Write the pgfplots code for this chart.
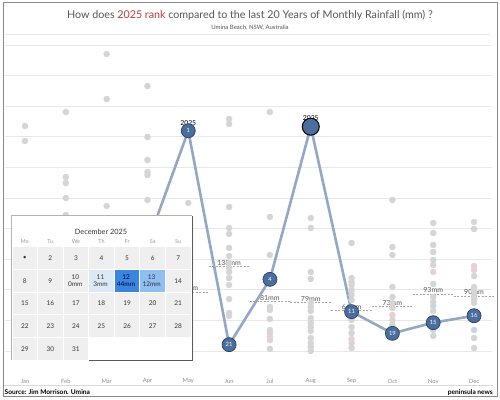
\documentclass[border=0pt]{standalone}
\usepackage{pgfplots}
\pgfplotsset{compat=1.18}
\usepackage{pgfplotstable}
\usepackage{fontspec}
\setmainfont{Lato}
\definecolor{gridgrey}{HTML}{E8E8E8}
\definecolor{dotgrey}{HTML}{D5D5D5}
\definecolor{dotpink}{HTML}{EBCFCF}
\definecolor{dotblue}{HTML}{CBD4E1}
\definecolor{linecol}{HTML}{92A8C5}
\definecolor{markfill}{HTML}{4A6E9E}
\definecolor{markedge}{HTML}{2A3F5E}
\definecolor{titlegrey}{HTML}{555555}
\definecolor{titlered}{HTML}{B83A3A}
\definecolor{avggrey}{HTML}{555555}
\definecolor{dashgrey}{HTML}{A5A5A5}
\definecolor{monthgrey}{HTML}{8C8C8C}
\definecolor{cellgrey}{HTML}{EFEFEF}
\definecolor{cellA}{HTML}{DCE8F6}
\definecolor{cellB}{HTML}{3A85E0}
\definecolor{cellC}{HTML}{90BEF0}
\definecolor{calnum}{HTML}{333333}
\definecolor{framegrey}{HTML}{8A8A8A}

\pgfplotstableread{
x y
1 367.4
1 342.9
2 390.3
2 284.1
2 274.3
2 249.8
2 222.1
3 485.0
3 411.5
3 236.8
4 432.7
4 349.5
4 311.9
4 292.3
4 287.4
4 246.6
5 241.7
6 378.9
6 370.7
6 235.2
6 200.9
6 191.1
6 168.2
6 155.1
6 143.7
6 135.5
6 129.0
6 119.2
6 107.8
6 84.9
6 62.1
6 57.2
7 390.3
7 218.8
7 156.8
7 71.9
7 67.0
7 52.3
7 34.3
7 29.4
7 18.0
7 3.3
8 217.2
8 200.9
8 129.0
8 117.6
8 78.4
8 71.9
8 65.3
8 53.9
8 45.7
8 39.2
8 32.7
8 21.2
8 13.1
8 6.5
8 0.0
9 176.4
9 119.2
9 112.7
9 107.8
9 99.6
9 91.4
9 83.3
9 50.6
9 39.2
9 29.4
9 13.1
9 4.9
10 246.6
10 169.8
10 156.8
10 104.5
10 88.2
10 78.4
10 70.2
10 50.6
10 42.5
11 209.0
11 192.7
11 173.1
11 161.7
11 148.6
11 140.4
11 109.4
11 88.2
11 80.0
11 65.3
11 34.3
11 24.5
12 210.7
12 199.2
12 122.5
12 104.5
12 98.0
12 91.4
12 84.9
12 78.4
12 21.2
12 4.9
}\greydots

\pgfplotstableread{
x y
7 22.9
9 19.6
10 58.8
11 129.0
12 138.8
12 132.3
}\pinkdots

\pgfplotstableread{
x y
11 73.5
12 34.3
}\bluedots

\pgfplotstableread{
x y
4 176.0
5 359.7
6 10.3
7 117.0
8 366.3
9 64.2
10 28.8
11 46.2
12 57.6
}\yeartwentyfive

\begin{document}
\begin{tikzpicture}[x=1pt,y=1pt]
\useasboundingbox (0,0) rectangle (500,399);
\fill[white] (0,0) rectangle (500,399);
\draw[framegrey, line width=1pt] (3,2.5) rectangle (497,396);
\node[font=\fontsize{10.7}{12}\selectfont, text=titlegrey] at (250,383.5) {How does \textcolor{titlered}{2025 rank} compared to the last 20 Years of Monthly Rainfall (mm) ?};
\node[font=\fontsize{6}{7}\selectfont, text=titlegrey] at (250,371) {Umina Beach, NSW, Australia};
\draw[gridgrey, line width=0.6pt] (5,365) -- (490,365);

\begin{axis}[
  at={(5pt,34pt)}, anchor=south west,
  scale only axis, width=487pt, height=325pt,
  xmin=0.51, xmax=12.44, ymin=-22.9, ymax=507.9,
  axis line style={draw=none},
  ytick={0,50,...,500}, yticklabels={},
  ymajorgrids, grid style={gridgrey, line width=0.6pt},
  xtick={1,...,12},
  xticklabels={Jan,Feb,Mar,Apr,May,Jun,Jul,Aug,Sep,Oct,Nov,Dec},
  major tick length=0pt,
  xticklabel style={font=\fontsize{5.8}{6}\selectfont, text=monthgrey, anchor=center, yshift=-16pt},
  clip=false,
]
\addplot[only marks, mark=*, mark size=3pt, color=dotgrey] table[x=x,y=y] {\greydots};
\addplot[only marks, mark=*, mark size=3pt, color=dotpink] table[x=x,y=y] {\pinkdots};
\addplot[only marks, mark=*, mark size=3pt, color=dotblue] table[x=x,y=y] {\bluedots};

% monthly averages
\pgfplotsset{avgline/.style={dashgrey, dash pattern=on 2pt off 1.5pt, line width=0.6pt}}
\addplot[avgline] coordinates {(4.5,96) (5.5,96)};
\addplot[avgline] coordinates {(5.5,138) (6.5,138)};
\addplot[avgline] coordinates {(6.5,81) (7.5,81)};
\addplot[avgline] coordinates {(7.5,79) (8.5,79)};
\addplot[avgline] coordinates {(8.5,66) (9.5,66)};
\addplot[avgline] coordinates {(9.5,73) (10.5,73)};
\addplot[avgline] coordinates {(10.5,93) (11.5,93)};
\addplot[avgline] coordinates {(11.5,90) (12.5,90)};
\begin{scope}[every node/.style={anchor=south, inner sep=1pt, font=\fontsize{7}{8}\selectfont, text=avggrey}]
\node at (axis cs:5,96) {96mm};
\node at (axis cs:6,138) {138mm};
\node at (axis cs:7,81) {81mm};
\node at (axis cs:8,79) {79mm};
\node at (axis cs:9,66) {66mm};
\node at (axis cs:10,73) {73mm};
\node at (axis cs:11,93) {93mm};
\node at (axis cs:12,90) {90mm};
\end{scope}

% 2025 line
\addplot[linecol, line width=2.6pt] table[x=x,y=y] {\yeartwentyfive};
\node[font=\fontsize{6.8}{7}\selectfont] at (axis cs:8,380) {2025};
\addplot[only marks, mark=*, mark size=8.5pt, mark options={fill=markfill, draw=black, line width=1pt}] coordinates {(8,366.3)};
\addplot[only marks, mark=*, mark size=7pt, mark options={fill=markfill, draw=markedge, line width=0.7pt},
  point meta=explicit symbolic, nodes near coords,
  nodes near coords style={anchor=center, font=\fontsize{5.8}{6}\selectfont, text=white}]
  coordinates {(5,359.7)[1] (6,10.3)[21] (7,117.0)[4] (9,64.2)[11] (10,28.8)[19] (11,46.2)[15] (12,57.6)[16]};
\node[font=\fontsize{6.8}{7}\selectfont] at (axis cs:5,373) {2025};
\end{axis}

% calendar
\fill[white] (11,39) rectangle (192,184);
\draw[black!30, line width=0.6pt] (192,184) -- (11,184) -- (11,39);
\draw[black!65, line width=1.6pt] (192.6,183) -- (192.6,38.4) -- (13,38.4);
\node[font=\fontsize{7.3}{8}\selectfont, text=calnum] at (101,167.3) {December 2025};
\foreach \w [count=\i from 0] in {Mo,Tu,We,Th,Fr,Sa,Su}{
  \pgfmathsetmacro{\xc}{12+(\i+0.5)*25.57}
  \node[font=\fontsize{5.5}{6}\selectfont, text=black!40] at (\xc,157.3) {\w};
}
\foreach \r in {0,...,4}{
  \foreach \c in {0,...,6}{
    \pgfmathtruncatemacro{\d}{\r*7+\c+1}
    \pgfmathsetmacro{\xl}{12+\c*25.57}
    \pgfmathsetmacro{\xr}{12+(\c+1)*25.57}
    \pgfmathsetmacro{\xc}{12+(\c+0.5)*25.57}
    \pgfmathsetmacro{\yt}{399-246.7-\r*22.7}
    \pgfmathsetmacro{\yb}{\yt-22.7}
    \pgfmathsetmacro{\yc}{\yt-11.35}
    \ifnum\d<32
      \fill[cellgrey,draw=white,line width=0.8pt] (\xl,\yb) rectangle (\xr,\yt);
      \ifnum\d=1
        \node[font=\fontsize{6.5}{7}\selectfont, text=calnum] at (\xc,\yc) {\textbullet};
      \else
        \ifnum\d<10
          \node[font=\fontsize{6.5}{7}\selectfont, text=calnum] at (\xc,\yc) {\d};
        \else
          \ifnum\d>13
            \node[font=\fontsize{6.5}{7}\selectfont, text=calnum] at (\xc,\yc) {\d};
          \fi
        \fi
      \fi
    \fi
  }
}
% highlighted days (row 2)
\fill[cellA,draw=white,line width=0.8pt] (88.71,106.6) rectangle (114.28,129.3);
\fill[cellB,draw=white,line width=0.8pt] (114.28,106.6) rectangle (139.85,129.3);
\fill[cellC,draw=white,line width=0.8pt] (139.85,106.6) rectangle (165.42,129.3);
\begin{scope}[every node/.style={font=\fontsize{6.5}{7.5}\selectfont, align=center, inner sep=0pt}]
\node[text=calnum] at (75.35,118) {10\\[-0.5pt]0mm};
\node[text=calnum] at (100.5,118) {11\\[-0.5pt]3mm};
\node[text=black!80!blue] at (126.07,118) {12\\[-0.5pt]44mm};
\node[text=calnum] at (151.64,118) {13\\[-0.5pt]12mm};
\end{scope}

% footer
\draw[black!15, line width=0.5pt] (4,14) -- (493,14);
\node[anchor=west, font=\bfseries\fontsize{6.6}{7}\selectfont, inner sep=0pt] at (4.5,6.5) {Source: Jim Morrison. Umina};
\node[anchor=east, font=\bfseries\fontsize{6.6}{7}\selectfont, inner sep=0pt] at (493,6.5) {peninsula news};
\end{tikzpicture}
\end{document}
